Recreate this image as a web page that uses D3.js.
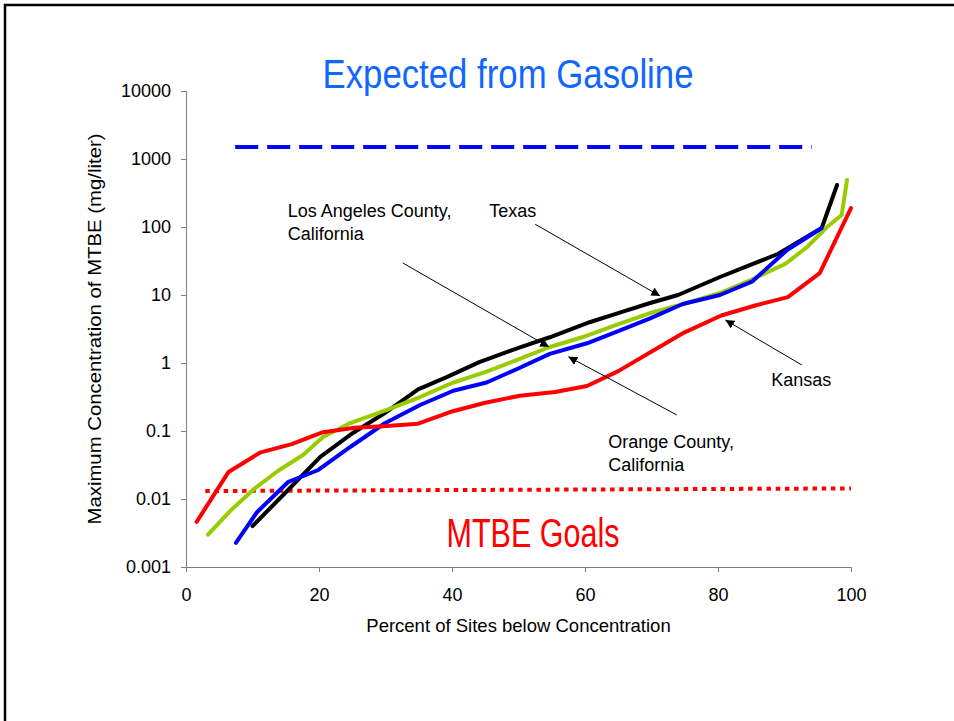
<!DOCTYPE html>
<html>
<head>
<meta charset="utf-8">
<script src="https://cdn.jsdelivr.net/npm/d3@7"></script>
<style>
  html, body { margin: 0; padding: 0; background: #fff; }
  svg { display: block; font-family: Arial, "Liberation Sans", sans-serif; }
</style>
</head>
<body>
<svg id="chart" width="954" height="721"></svg>
<script>
// ---------- data ----------
const xTicks = [0, 20, 40, 60, 80, 100];
const xTickLabels = ["0", "20", "40", "60", "80", "100"];
const yTicks = [0.001, 0.01, 0.1, 1, 10, 100, 1000, 10000];
const yTickLabels = ["0.001", "0.01", "0.1", "1", "10", "100", "1000", "10000"];

const texasPct = [10.0, 15.2, 20.2, 25.1, 30.2, 34.9, 39.2, 44.1, 49.9, 54.7, 60.8, 65.7, 69.8, 74.0, 80.3, 89.0, 95.6, 97.9];
const texasVal = [0.0040, 0.0131, 0.0415, 0.0935, 0.192, 0.41, 0.62, 1.03, 1.66, 2.39, 4.01, 5.68, 7.62, 10.0, 18.4, 40.1, 96.6, 415];

const laPct = [3.3, 6.8, 10.4, 13.8, 17.6, 20.6, 24.7, 30.2, 35.2, 40.0, 45.1, 49.8, 54.7, 59.7, 64.2, 69.8, 74.3, 80.3, 85.6, 90.1, 93.4, 96.4, 98.6, 99.4];
const laVal = [0.0030, 0.0069, 0.0145, 0.0258, 0.0444, 0.0817, 0.131, 0.204, 0.316, 0.508, 0.738, 1.11, 1.72, 2.41, 3.50, 5.43, 7.13, 10.7, 17.8, 28.6, 50.8, 100, 150, 491];

const orangePct = [7.5, 10.7, 15.4, 19.9, 24.7, 29.9, 35.2, 40.2, 45.2, 49.8, 54.7, 60.3, 64.8, 69.8, 74.7, 80.3, 85.1, 90.4, 95.6];
const orangeVal = [0.00227, 0.00644, 0.0179, 0.0267, 0.0582, 0.130, 0.241, 0.391, 0.517, 0.816, 1.36, 1.95, 2.89, 4.54, 7.38, 10.0, 15.7, 45.9, 96.6];

const kansasPct = [1.6, 6.4, 11.1, 15.9, 20.6, 25.4, 30.2, 34.9, 39.7, 45.0, 50.2, 55.5, 60.3, 65.0, 69.9, 74.9, 80.5, 85.6, 90.5, 95.3, 100];
const kansasVal = [0.0046, 0.025, 0.048, 0.064, 0.096, 0.112, 0.118, 0.128, 0.19, 0.26, 0.33, 0.375, 0.46, 0.76, 1.45, 2.8, 5.0, 7.0, 9.3, 21, 190];

// reference levels
const gasolinePct = [7.4, 94.1];
const gasolineVal = [1500, 1500];
const goalPct = [2.9, 100];
const goalVal = [0.0131, 0.0143];

// annotation labels (data coords) and arrows [fromPct, fromVal, toPct, toVal]
const labelNames = [["Los Angeles County,", "California"], ["Texas"], ["Kansas"], ["Orange County,", "California"]];
const labelPct = [15.3, 45.6, 88.0, 63.5];
const labelVal = [140, 140, 0.459, 0.0562];
const arrowFrom = [[32.6, 29.6], [52.5, 110], [92.6, 0.936], [73.8, 0.172]];
const arrowTo = [[54.6, 1.72], [71.3, 9.66], [81.1, 4.29], [57.5, 1.24]];

const titleText = "Expected from Gasoline";
const goalText = "MTBE Goals";
const xTitle = "Percent of Sites below Concentration";
const yTitle = "Maximum Concentration of MTBE (mg/liter)";

// ---------- drawing ----------
const svg = d3.select("#chart");
const W = 954, H = 721;
const plot = { left: 186, right: 851, top: 91, bottom: 567 };

// slide frame
svg.append("path")
  .attr("d", `M5,${H + 5} V5 H${W + 5}`)
  .attr("fill", "none").attr("stroke", "#000").attr("stroke-width", 2.5);

const x = d3.scaleLinear().domain([0, 100]).range([plot.left, plot.right]);
const y = d3.scaleLog().domain([0.001, 10000]).range([plot.bottom, plot.top]);

// axes
const yAxis = d3.axisLeft(y).tickValues(yTicks)
  .tickFormat((d, i) => yTickLabels[i]).tickSize(5).tickPadding(10);
const gy = svg.append("g").attr("transform", `translate(${plot.left},0)`).call(yAxis);

const xAxis = d3.axisBottom(x).tickValues(xTicks)
  .tickFormat((d, i) => xTickLabels[i]).tickSize(5).tickPadding(16);
const gx = svg.append("g").attr("transform", `translate(0,${plot.bottom})`).call(xAxis);

[gx, gy].forEach(g => {
  g.select(".domain").attr("stroke", "#808080").attr("stroke-width", 1);
  g.selectAll(".tick line").attr("stroke", "#808080");
  g.selectAll(".tick text").attr("fill", "#000").attr("font-size", 18)
    .attr("font-family", "Arial, 'Liberation Sans', sans-serif");
});

// axis titles
svg.append("text").attr("x", (plot.left + plot.right) / 2).attr("y", 632)
  .attr("text-anchor", "middle").attr("font-size", 18.5).attr("fill", "#000")
  .text(xTitle);
svg.append("text")
  .attr("transform", `translate(101,${(plot.top + plot.bottom) / 2}) rotate(-90)`)
  .attr("text-anchor", "middle").attr("font-size", 18).attr("fill", "#000")
  .attr("textLength", 391).attr("lengthAdjust", "spacingAndGlyphs")
  .text(yTitle);

// reference lines
const line = d3.line().x(d => x(d[0])).y(d => y(d[1]));
svg.append("path").datum(d3.zip(gasolinePct, gasolineVal))
  .attr("d", line).attr("fill", "none").attr("stroke", "#0000ff")
  .attr("stroke-width", 4).attr("stroke-dasharray", "23,9");
svg.append("path").datum(d3.zip(goalPct, goalVal))
  .attr("d", line).attr("fill", "none").attr("stroke", "#ff0000")
  .attr("stroke-width", 4).attr("stroke-dasharray", "4.5,4.7");

// series
const series = [
  { pct: texasPct, val: texasVal, color: "#000000" },
  { pct: laPct, val: laVal, color: "#99cc00" },
  { pct: orangePct, val: orangeVal, color: "#0000ff" },
  { pct: kansasPct, val: kansasVal, color: "#ff0000" }
];
series.forEach(s => {
  svg.append("path").datum(d3.zip(s.pct, s.val))
    .attr("d", line).attr("fill", "none").attr("stroke", s.color)
    .attr("stroke-width", 4).attr("stroke-linejoin", "round").attr("stroke-linecap", "round");
});

// arrows
svg.append("defs").append("marker")
  .attr("id", "arrow").attr("viewBox", "0 0 10 10").attr("refX", 10).attr("refY", 5)
  .attr("markerWidth", 9).attr("markerHeight", 9).attr("markerUnits", "userSpaceOnUse")
  .attr("orient", "auto")
  .append("path").attr("d", "M0,0 L10,5 L0,10 Z").attr("fill", "#000");

arrowFrom.forEach((f, i) => {
  const t = arrowTo[i];
  svg.append("line")
    .attr("x1", x(f[0])).attr("y1", y(f[1]))
    .attr("x2", x(t[0])).attr("y2", y(t[1]))
    .attr("stroke", "#000").attr("stroke-width", 1)
    .attr("marker-end", "url(#arrow)");
});

// annotation labels
labelNames.forEach((lines, i) => {
  const t = svg.append("text").attr("x", x(labelPct[i])).attr("y", y(labelVal[i]))
    .attr("font-size", 18).attr("fill", "#000");
  lines.forEach((ln, j) => {
    t.append("tspan").attr("x", x(labelPct[i])).attr("dy", j === 0 ? 0 : 22.5).text(ln);
  });
});

// big labels
svg.append("text").attr("x", 508).attr("y", 88).attr("text-anchor", "middle")
  .attr("font-size", 40).attr("fill", "#1166ff")
  .attr("textLength", 371).attr("lengthAdjust", "spacingAndGlyphs")
  .text(titleText);
svg.append("text").attr("x", 533).attr("y", 547).attr("text-anchor", "middle")
  .attr("font-size", 40).attr("fill", "#ff0000")
  .attr("textLength", 173).attr("lengthAdjust", "spacingAndGlyphs")
  .text(goalText);
</script>
</body>
</html>
